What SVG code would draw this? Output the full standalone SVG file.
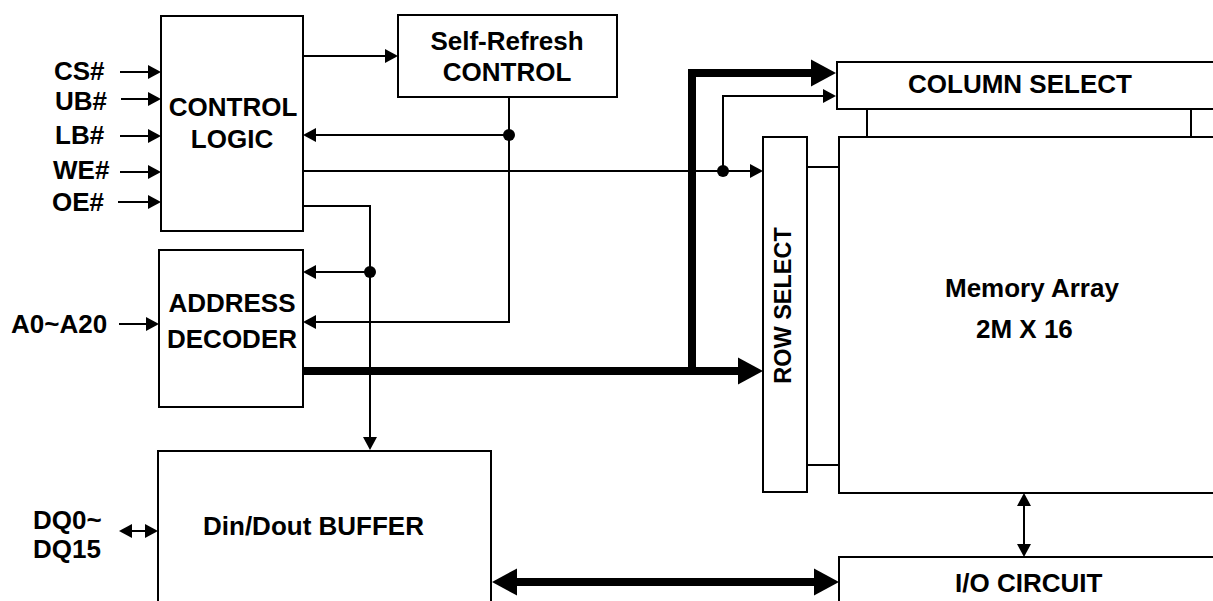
<svg xmlns="http://www.w3.org/2000/svg" width="1213" height="601" viewBox="0 0 1213 601">
<style>
  .box { fill: #fff; stroke: #000; stroke-width: 2; }
  .ln { fill: none; stroke: #000; stroke-width: 2; }
  .thick { fill: none; stroke: #000; stroke-width: 8; stroke-linejoin: miter; }
  text { font-family: "Liberation Sans", Arial, sans-serif; font-weight: bold; font-size: 26px; fill: #000; }
  .mid { text-anchor: middle; }
</style>
<defs>
  <marker id="a" markerUnits="userSpaceOnUse" markerWidth="14" markerHeight="14" refX="0" refY="7" orient="auto-start-reverse" overflow="visible">
    <path d="M0,0 L13,7 L0,14 z" fill="#000"/>
  </marker>
  <marker id="A" markerUnits="userSpaceOnUse" markerWidth="26" markerHeight="27" refX="0" refY="13.5" orient="auto-start-reverse" overflow="visible">
    <path d="M0,0 L25,13.5 L0,27 z" fill="#000"/>
  </marker>
</defs>

<g id="control-logic">
  <rect class="box" x="161" y="16" width="142" height="215"/>
  <text class="mid" x="233" y="116">CONTROL</text>
  <text class="mid" x="232" y="148">LOGIC</text>
</g>
<g id="self-refresh">
  <rect class="box" x="398" y="15" width="219" height="82"/>
  <text class="mid" x="507" y="50">Self-Refresh</text>
  <text class="mid" x="507" y="81">CONTROL</text>
</g>
<g id="address-decoder">
  <rect class="box" x="159" y="250" width="144" height="157"/>
  <text class="mid" x="232" y="312">ADDRESS</text>
  <text class="mid" x="232" y="348">DECODER</text>
</g>
<g id="din-dout-buffer">
  <rect class="box" x="158" y="451" width="333" height="200"/>
  <text x="203" y="535">Din/Dout BUFFER</text>
</g>
<g id="column-select">
  <rect class="box" x="837" y="62" width="400" height="47"/>
  <text x="908" y="93">COLUMN SELECT</text>
</g>
<g id="row-select">
  <rect class="box" x="763" y="137" width="44" height="355"/>
  <text class="mid" transform="translate(791,305.5) rotate(-90)" x="0" y="0" style="font-size:23.5px">ROW SELECT</text>
</g>
<g id="memory-array">
  <rect class="box" x="839" y="137" width="400" height="356"/>
  <text x="945" y="297">Memory Array</text>
  <text x="976" y="338">2M X 16</text>
</g>
<g id="io-circuit">
  <rect class="box" x="839" y="557" width="400" height="100"/>
  <text x="955" y="592">I/O CIRCUIT</text>
</g>

<g id="labels">
  <text x="54" y="80">CS#</text>
  <text x="55" y="110">UB#</text>
  <text x="55" y="144">LB#</text>
  <text x="53" y="179">WE#</text>
  <text x="52" y="211">OE#</text>
  <text x="11" y="333">A0~A20</text>
  <text x="33" y="529">DQ0~</text>
  <text x="33" y="558">DQ15</text>
</g>

<g id="connectors">
  <path class="ln" d="M120,72 H148" marker-end="url(#a)"/>
  <path class="ln" d="M121,99 H148" marker-end="url(#a)"/>
  <path class="ln" d="M120,136 H148" marker-end="url(#a)"/>
  <path class="ln" d="M120,172 H148" marker-end="url(#a)"/>
  <path class="ln" d="M118,202 H148" marker-end="url(#a)"/>
  <path class="ln" d="M119,324 H146" marker-end="url(#a)"/>
  <path class="ln" d="M132,531 H145" marker-start="url(#a)" marker-end="url(#a)"/>

  <path class="ln" d="M303,56 H385" marker-end="url(#a)"/>
  <path class="ln" d="M509,135 H316" marker-end="url(#a)"/>
  <path class="ln" d="M509,97 V322 H316" marker-end="url(#a)"/>
  <path class="ln" d="M303,206 H370 V437" marker-end="url(#a)"/>
  <path class="ln" d="M370,272 H316" marker-end="url(#a)"/>
  <path class="ln" d="M303,171 H750" marker-end="url(#a)"/>
  <path class="ln" d="M723,171 V96 H823" marker-end="url(#a)"/>

  <path class="ln" d="M807,167 H839"/>
  <path class="ln" d="M807,465 H839"/>
  <path class="ln" d="M867,109 V137"/>
  <path class="ln" d="M1191,109 V137"/>
  <path class="ln" d="M1024,506 V544" marker-start="url(#a)" marker-end="url(#a)"/>

  <path class="thick" d="M303,371 H738" marker-end="url(#A)"/>
  <path class="thick" d="M692,375 V73 H811" marker-end="url(#A)"/>
  <path class="thick" d="M517,582 H814" marker-start="url(#A)" marker-end="url(#A)"/>

  <circle cx="509" cy="135" r="6" fill="#000"/>
  <circle cx="370" cy="272" r="6" fill="#000"/>
  <circle cx="723" cy="171" r="6" fill="#000"/>
</g>
</svg>
